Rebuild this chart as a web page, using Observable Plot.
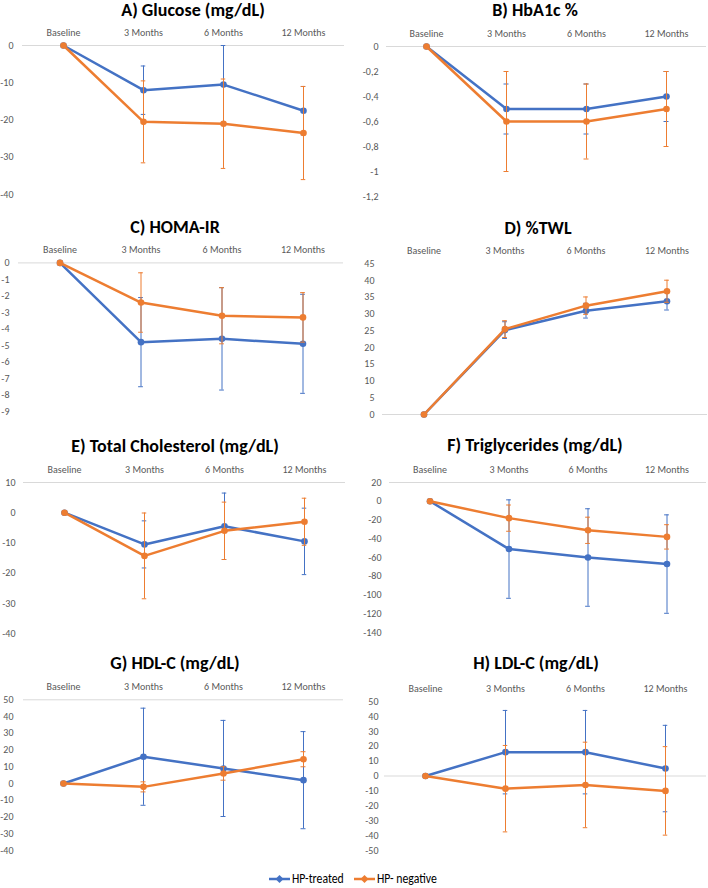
<!DOCTYPE html>
<html>
<head>
<meta charset="utf-8">
<script src="https://cdn.jsdelivr.net/npm/d3@7"></script>
<script src="https://cdn.jsdelivr.net/npm/@observablehq/plot@0.6"></script>
<style>
  body { margin: 0; background: #fff; }
  #chart { position: relative; width: 708px; height: 888px; font-family: Carlito, Lato, "Open Sans", sans-serif; overflow: hidden; }
  .panel { position: absolute; }
  .title { position: absolute; transform: translate(-50%, -50%); font-weight: 700; font-size: 18px; white-space: nowrap; color: #000; }
  .legend { position: absolute; display: flex; align-items: center; font-size: 14px; color: #000; }
  .legend .item { display: flex; align-items: center; }
  .legend .txt { display: inline-block; transform: scaleX(0.84); transform-origin: left center; }
  .legend svg { margin-right: 2px; }
</style>
</head>
<body>
<div id="chart"></div>
<script>
// Time points and groups
const timepoints = ["Baseline", "3 Months", "6 Months", "12 Months"];
const groups = ["HP-treated", "HP- negative"];
const groupColors = ["#4472C4", "#ED7D31"];

// A) Glucose (mg/dL): mean change and SD
const glucoseTreated = [0, -12, -10.5, -17.5];
const glucoseTreatedSD = [0, 6.5, 10.5, 6.5];
const glucoseNegative = [0, -20.5, -21, -23.5];
const glucoseNegativeSD = [0, 11, 12, 12.5];
const glucoseTicks = [0, -10, -20, -30, -40];

// B) HbA1c %
const hba1cTreated = [0, -0.5, -0.5, -0.4];
const hba1cTreatedSD = [0, 0.2, 0.2, 0.2];
const hba1cNegative = [0, -0.6, -0.6, -0.5];
const hba1cNegativeSD = [0, 0.4, 0.3, 0.3];
const hba1cTicks = [0, -0.2, -0.4, -0.6, -0.8, -1, -1.2];

// C) HOMA-IR
const homaTreated = [0, -4.8, -4.6, -4.9];
const homaTreatedSD = [0, 2.7, 3.1, 3.0];
const homaNegative = [0, -2.4, -3.2, -3.3];
const homaNegativeSD = [0, 1.8, 1.7, 1.5];
const homaTicks = [0, -1, -2, -3, -4, -5, -6, -7, -8, -9];

// D) %TWL
const twlTreated = [0, 25.2, 31, 33.8];
const twlTreatedSD = [0, 2.5, 2.2, 2.6];
const twlNegative = [0, 25.5, 32.5, 36.8];
const twlNegativeSD = [0, 2.5, 2.6, 3.3];
const twlTicks = [0, 5, 10, 15, 20, 25, 30, 35, 40, 45];

// E) Total Cholesterol (mg/dL)
const cholTreated = [0, -10.5, -4.5, -9.5];
const cholTreatedSD = [0, 7.8, 11, 11];
const cholNegative = [0, -14.3, -6, -3];
const cholNegativeSD = [0, 14.2, 9.5, 7.8];
const cholTicks = [10, 0, -10, -20, -30, -40];

// F) Triglycerides (mg/dL)
const trigTreated = [0, -51, -60, -67];
const trigTreatedSD = [0, 52.5, 52, 52.5];
const trigNegative = [0, -18, -31, -38];
const trigNegativeSD = [0, 14, 14, 13];
const trigTicks = [20, 0, -20, -40, -60, -80, -100, -120, -140];

// G) HDL-C (mg/dL)
const hdlTreated = [0, 16, 9, 2];
const hdlTreatedSD = [0, 29, 28.7, 29];
const hdlNegative = [0, -2, 6, 14.5];
const hdlNegativeSD = [0, 3, 4, 4.5];
const hdlTicks = [50, 40, 30, 20, 10, 0, -10, -20, -30, -40];

// H) LDL-C (mg/dL)
const ldlTreated = [0, 16, 16, 5];
const ldlTreatedSD = [0, 28, 28, 29];
const ldlNegative = [0, -8.5, -6, -10];
const ldlNegativeSD = [0, 29, 28.7, 29.7];
const ldlTicks = [50, 40, 30, 20, 10, 0, -10, -20, -30, -40, -50];

// Panel layout (page coordinates)
const panels = [
  {title: "A) Glucose (mg/dL)", col: 0, x0: 22, x1: 344, yTop: 45, yBot: 194, labelY: 32, titleX: 193, titleY: 10, pad: 9,
   means: [glucoseTreated, glucoseNegative], sds: [glucoseTreatedSD, glucoseNegativeSD], domain: [-40, 0], ticks: glucoseTicks, axisAt: 0},
  {title: "B) HbA1c %", col: 1, x0: 386, x1: 706, yTop: 45.7, yBot: 196, labelY: 32.7, titleX: 535, titleY: 10, pad: 8, comma: true,
   means: [hba1cTreated, hba1cNegative], sds: [hba1cTreatedSD, hba1cNegativeSD], domain: [-1.2, 0], ticks: hba1cTicks, axisAt: 0},
  {title: "C) HOMA-IR", col: 0, x0: 18, x1: 343, yTop: 262.7, yBot: 411.7, labelY: 249.3, titleX: 175, titleY: 227, pad: 9,
   means: [homaTreated, homaNegative], sds: [homaTreatedSD, homaNegativeSD], domain: [-9, 0], ticks: homaTicks, axisAt: 0},
  {title: "D) %TWL", col: 1, x0: 382, x1: 707, yTop: 263.3, yBot: 414, labelY: 250, titleX: 538, titleY: 228, pad: 8,
   means: [twlTreated, twlNegative], sds: [twlTreatedSD, twlNegativeSD], domain: [0, 45], ticks: twlTicks, axisAt: 0},
  {title: "E) Total Cholesterol (mg/dL)", col: 0, x0: 23, x1: 345, yTop: 482.3, yBot: 633.3, labelY: 469.3, titleX: 175, titleY: 446, pad: 8,
   means: [cholTreated, cholNegative], sds: [cholTreatedSD, cholNegativeSD], domain: [-40, 10], ticks: cholTicks, axisAt: 10},
  {title: "F) Triglycerides (mg/dL)", col: 1, x0: 389, x1: 706, yTop: 481.7, yBot: 631.7, labelY: 468.7, titleX: 535, titleY: 445, pad: 8,
   means: [trigTreated, trigNegative], sds: [trigTreatedSD, trigNegativeSD], domain: [-140, 20], ticks: trigTicks, axisAt: 20},
  {title: "G) HDL-C (mg/dL)", col: 0, x0: 23, x1: 343, yTop: 699, yBot: 849.3, labelY: 686.7, titleX: 175, titleY: 663, pad: 10,
   means: [hdlTreated, hdlNegative], sds: [hdlTreatedSD, hdlNegativeSD], domain: [-40, 50], ticks: hdlTicks, axisAt: 50},
  {title: "H) LDL-C (mg/dL)", col: 1, x0: 384, x1: 706, yTop: 701, yBot: 850, labelY: 687, titleX: 536, titleY: 663, pad: 6,
   means: [ldlTreated, ldlNegative], sds: [ldlTreatedSD, ldlNegativeSD], domain: [-50, 50], ticks: ldlTicks, axisAt: 0}
];

const chart = document.getElementById("chart");
const FONT = "Carlito, Lato, 'Open Sans', sans-serif";
const CAP = 5; // error bar cap width, px

function drawPanel(p) {
  const colLeft = p.col * 354;
  const svgTop = p.labelY - 14;
  const band = (p.x1 - p.x0) / timepoints.length;
  const capInset = (band - CAP) / 2;
  const rows = [];
  groups.forEach((g, gi) => timepoints.forEach((t, ti) =>
    rows.push({time: t, group: g, gi, mean: p.means[gi][ti], sd: p.sds[gi][ti]})));

  const marks = [Plot.ruleY([p.axisAt], {stroke: "#d9d9d9", strokeWidth: 1})];
  groups.forEach((g, gi) => {
    const series = rows.filter(d => d.gi === gi);
    const withErr = series.filter(d => d.sd > 0);
    const c = groupColors[gi];
    const errStyle = {stroke: c, strokeWidth: 1};
    marks.push(
      Plot.ruleX(withErr, {x: "time", y1: d => d.mean - d.sd, y2: d => d.mean + d.sd, ...errStyle}),
      Plot.tickY(withErr, {x: "time", y: d => d.mean - d.sd, ...errStyle, insetLeft: capInset, insetRight: capInset}),
      Plot.tickY(withErr, {x: "time", y: d => d.mean + d.sd, ...errStyle, insetLeft: capInset, insetRight: capInset}),
      Plot.line(series, {x: "time", y: "mean", stroke: c, strokeWidth: 2.5}),
      Plot.dot(series, {x: "time", y: "mean", fill: c, r: 3.3})
    );
  });

  const fmt = d => {
    const s = (d < 0 ? "-" : "") + String(Math.abs(d));
    return p.comma ? s.replace(".", ",") : s;
  };

  const svg = Plot.plot({
    width: 354,
    height: Math.round(p.yBot + 8 - svgTop),
    marginLeft: p.x0 - colLeft,
    marginRight: colLeft + 354 - p.x1,
    marginTop: p.yTop - svgTop,
    marginBottom: 8,
    style: {fontFamily: FONT, fontSize: "10px", color: "#595959", background: "transparent", overflow: "visible"},
    x: {type: "band", domain: timepoints, padding: 0, align: 0.5, axis: "top", tickSize: 0, tickPadding: 10, label: null},
    y: {domain: p.domain, ticks: p.ticks, tickFormat: fmt, tickSize: 0, tickPadding: p.pad, label: null},
    marks
  });

  const div = document.createElement("div");
  div.className = "panel";
  div.style.left = colLeft + "px";
  div.style.top = svgTop + "px";
  div.appendChild(svg);
  chart.appendChild(div);

  const title = document.createElement("div");
  title.className = "title";
  title.textContent = p.title;
  title.style.left = p.titleX + "px";
  title.style.top = p.titleY + "px";
  chart.appendChild(title);
}

panels.forEach(drawPanel);

// Legend: line-with-marker swatch followed by the group name
const legend = document.createElement("div");
legend.className = "legend";
legend.style.left = "269px";
legend.style.top = "870px";
groups.forEach((g, gi) => {
  const item = document.createElement("div");
  item.className = "item";
  const sw = d3.create("svg").attr("width", 21).attr("height", 10);
  sw.append("line").attr("x1", 0).attr("x2", 21).attr("y1", 5).attr("y2", 5)
    .attr("stroke", groupColors[gi]).attr("stroke-width", 2.5);
  sw.append("path").attr("d", "M10.5,1L14.5,5L10.5,9L6.5,5Z").attr("fill", groupColors[gi]);
  item.appendChild(sw.node());
  const label = document.createElement("span");
  label.className = "txt";
  label.textContent = g;
  item.appendChild(label);
  legend.appendChild(item);
});
chart.appendChild(legend);
</script>
</body>
</html>
